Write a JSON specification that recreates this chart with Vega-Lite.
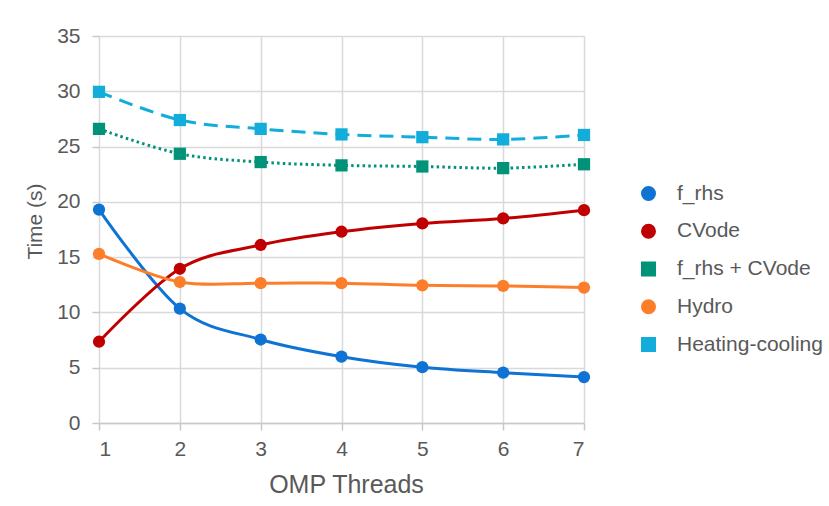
{
  "$schema": "https://vega.github.io/schema/vega-lite/v6.json",
  "autosize": {"type": "none"},
  "padding": {"left": 99, "top": 36, "right": 245, "bottom": 83},
  "width": 485,
  "height": 387,
  "background": "white",
  "config": {
    "view": {"stroke": null},
    "font": "Liberation Sans",
    "axis": {
      "labelFont": "Liberation Sans",
      "titleFont": "Liberation Sans",
      "labelColor": "#595959",
      "titleColor": "#595959",
      "titleFontWeight": "normal",
      "gridColor": "#d9d9d9",
      "gridWidth": 1.5,
      "tickColor": "#c8c8c8",
      "tickWidth": 1.5,
      "domainColor": "#c8c8c8",
      "domainWidth": 1.5
    }
  },
  "data": {
    "values": [
      {"threads": 1, "series": "f_rhs", "time": 19.3},
      {"threads": 2, "series": "f_rhs", "time": 10.35},
      {"threads": 3, "series": "f_rhs", "time": 7.55},
      {"threads": 4, "series": "f_rhs", "time": 6.0},
      {"threads": 5, "series": "f_rhs", "time": 5.05},
      {"threads": 6, "series": "f_rhs", "time": 4.55},
      {"threads": 7, "series": "f_rhs", "time": 4.15},
      {"threads": 1, "series": "CVode", "time": 7.35},
      {"threads": 2, "series": "CVode", "time": 13.95},
      {"threads": 3, "series": "CVode", "time": 16.1},
      {"threads": 4, "series": "CVode", "time": 17.3},
      {"threads": 5, "series": "CVode", "time": 18.05},
      {"threads": 6, "series": "CVode", "time": 18.5},
      {"threads": 7, "series": "CVode", "time": 19.25},
      {"threads": 1, "series": "f_rhs + CVode", "time": 26.6},
      {"threads": 2, "series": "f_rhs + CVode", "time": 24.35},
      {"threads": 3, "series": "f_rhs + CVode", "time": 23.6},
      {"threads": 4, "series": "f_rhs + CVode", "time": 23.3},
      {"threads": 5, "series": "f_rhs + CVode", "time": 23.2},
      {"threads": 6, "series": "f_rhs + CVode", "time": 23.05},
      {"threads": 7, "series": "f_rhs + CVode", "time": 23.4},
      {"threads": 1, "series": "Hydro", "time": 15.3},
      {"threads": 2, "series": "Hydro", "time": 12.75},
      {"threads": 3, "series": "Hydro", "time": 12.65},
      {"threads": 4, "series": "Hydro", "time": 12.65},
      {"threads": 5, "series": "Hydro", "time": 12.45},
      {"threads": 6, "series": "Hydro", "time": 12.4},
      {"threads": 7, "series": "Hydro", "time": 12.25},
      {"threads": 1, "series": "Heating-cooling", "time": 29.95},
      {"threads": 2, "series": "Heating-cooling", "time": 27.4},
      {"threads": 3, "series": "Heating-cooling", "time": 26.6},
      {"threads": 4, "series": "Heating-cooling", "time": 26.1},
      {"threads": 5, "series": "Heating-cooling", "time": 25.85},
      {"threads": 6, "series": "Heating-cooling", "time": 25.65},
      {"threads": 7, "series": "Heating-cooling", "time": 26.05}
    ]
  },
  "encoding": {
    "x": {
      "field": "threads",
      "type": "quantitative",
      "scale": {"domain": [1, 7], "nice": false, "zero": false},
      "axis": {
        "title": "OMP Threads",
        "values": [1, 2, 3, 4, 5, 6, 7],
        "format": "d",
        "labelFontSize": 21,
        "titleFontSize": 25,
        "tickSize": 7,
        "labelPadding": 8,
        "titleX": 247,
        "titleY": 61,
        "titleBaseline": "middle",
        "domain": true
      }
    },
    "y": {
      "field": "time",
      "type": "quantitative",
      "scale": {"domain": [0, 35], "nice": false},
      "axis": {
        "title": "Time (s)",
        "values": [0, 5, 10, 15, 20, 25, 30, 35],
        "labelFontSize": 21,
        "titleFontSize": 21,
        "tickSize": 7,
        "labelPadding": 12,
        "domain": false,
        "titleX": -64,
        "titleY": 185,
        "titleAngle": -90,
        "titleAlign": "center",
        "titleBaseline": "middle"
      }
    },
    "color": {
      "field": "series", "type": "nominal",
      "scale": {
        "domain": ["f_rhs", "CVode", "f_rhs + CVode", "Hydro", "Heating-cooling"],
        "range": ["#0F73D4", "#C00000", "#00937A", "#FD7E2A", "#12ADDA"]
      },
      "legend": {
        "title": null, "orient": "none", "legendX": 539, "legendY": 147, "padding": 0,
        "symbolSize": 144, "symbolStrokeWidth": 3,
        "labelFont": "Liberation Sans", "labelFontSize": 21, "labelColor": "#595959",
        "labelOffset": 18, "rowPadding": 12.75, "labelLimit": 300
      }
    }
  },
  "layer": [
    {
      "transform": [{"filter": {"field": "series", "oneOf": ["f_rhs", "CVode", "Hydro"]}}],
      "mark": {"type": "line", "interpolate": "cardinal", "strokeWidth": 3}
    },
    {
      "transform": [{"filter": {"field": "series", "oneOf": ["f_rhs + CVode", "Heating-cooling"]}}],
      "mark": {"type": "line", "interpolate": "cardinal", "strokeWidth": 3},
      "encoding": {
        "strokeDash": {
          "field": "series", "type": "nominal", "legend": null,
          "scale": {"domain": ["f_rhs + CVode", "Heating-cooling"], "range": [[2.5, 3.2], [14, 8]]}
        }
      }
    },
    {
      "mark": {"type": "point", "filled": true, "size": 150, "opacity": 1},
      "encoding": {
        "shape": {
          "field": "series", "type": "nominal",
          "scale": {
            "domain": ["f_rhs", "CVode", "f_rhs + CVode", "Hydro", "Heating-cooling"],
            "range": ["circle", "circle", "square", "circle", "square"]
          },
          "legend": {
            "title": null, "orient": "none", "legendX": 539, "legendY": 147, "padding": 0,
            "symbolSize": 144, "symbolStrokeWidth": 3,
            "labelFont": "Liberation Sans", "labelFontSize": 21, "labelColor": "#595959",
            "labelOffset": 18, "rowPadding": 12.75, "labelLimit": 300
          }
        }
      }
    }
  ]
}
